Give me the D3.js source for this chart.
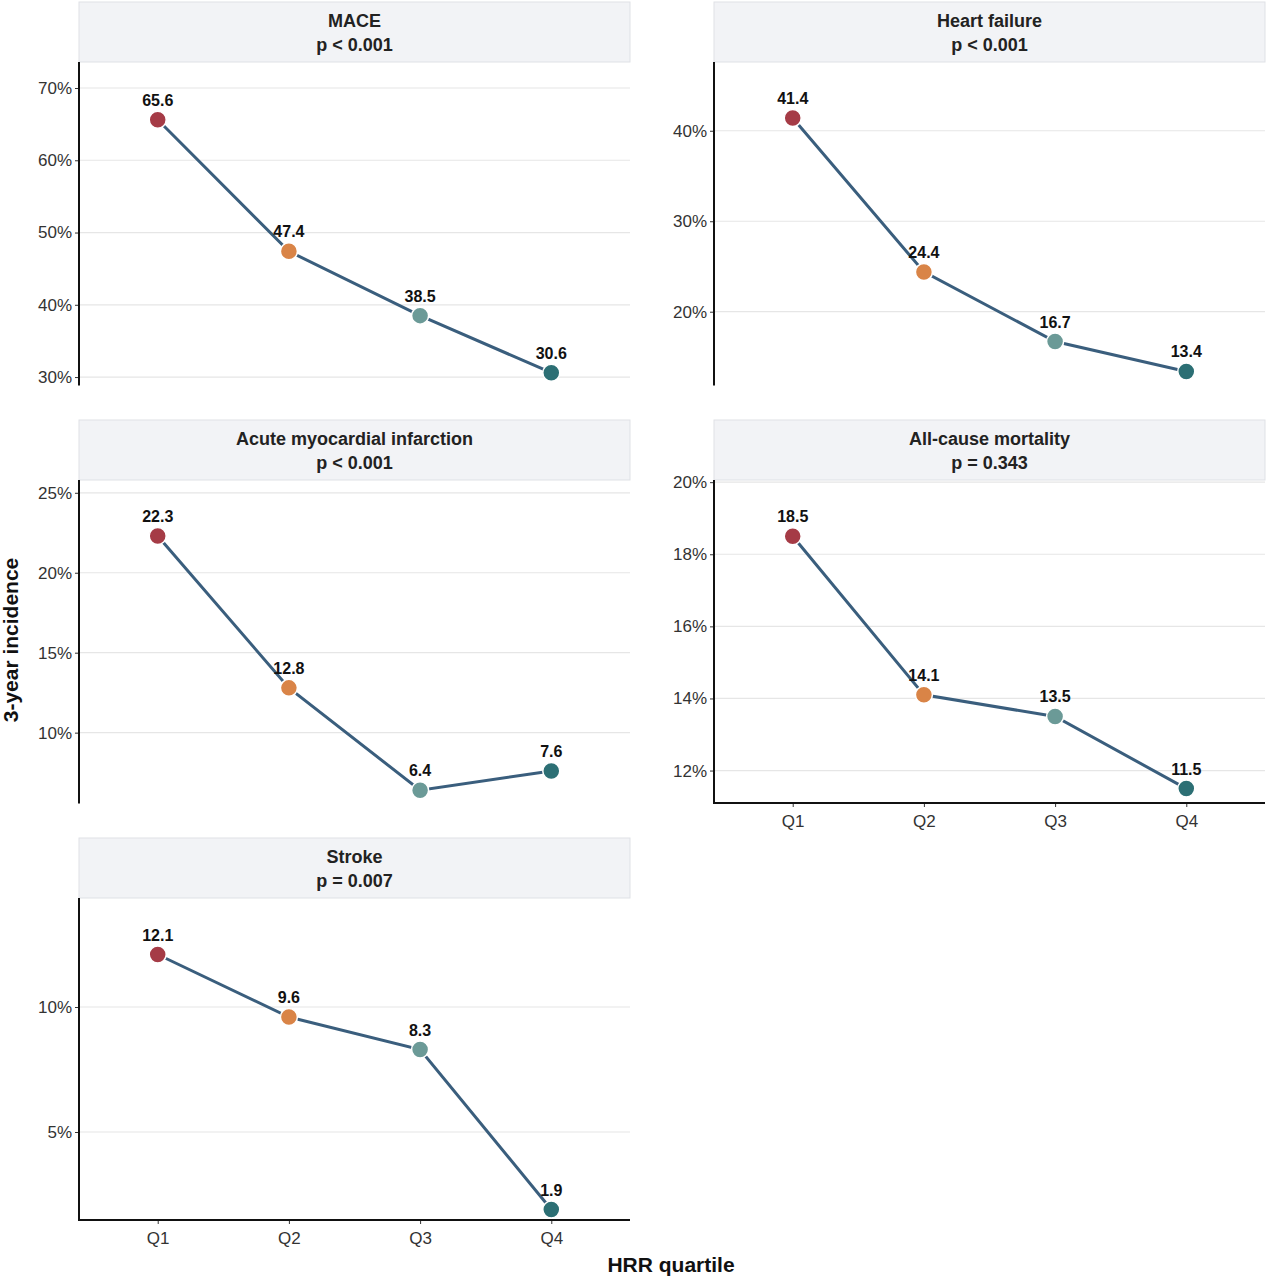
<!DOCTYPE html>
<html><head><meta charset="utf-8">
<script src="https://cdn.jsdelivr.net/npm/d3@7"></script>
<style>body{margin:0;background:#fff;font-family:"Liberation Sans",Arial,sans-serif}</style>
</head><body><svg id="c" width="1270" height="1280"></svg>
<script>
const quartiles = ["Q1", "Q2", "Q3", "Q4"];
const colors = ["#a53b46", "#d98447", "#6b9a97", "#2c6f74"];
const titles = ["MACE", "Heart failure", "Acute myocardial infarction", "All-cause mortality", "Stroke"];
const pvals = ["p < 0.001", "p < 0.001", "p < 0.001", "p = 0.343", "p = 0.007"];
const maceVals = [65.6, 47.4, 38.5, 30.6];
const hfVals = [41.4, 24.4, 16.7, 13.4];
const amiVals = [22.3, 12.8, 6.4, 7.6];
const mortVals = [18.5, 14.1, 13.5, 11.5];
const strokeVals = [12.1, 9.6, 8.3, 1.9];
const yDomains = [[28.9, 73.6], [11.9, 47.6], [5.6, 25.8], [11.1, 20.06], [1.48, 14.36]];
const yTicks = [[30, 40, 50, 60, 70], [20, 30, 40], [10, 15, 20, 25], [12, 14, 16, 18, 20], [5, 10]];

const series = [maceVals, hfVals, amiVals, mortVals, strokeVals];
const layout = [
  {x0: 79, x1: 630, top: 2, y0: 62, y1: 385, bottomAxis: false},
  {x0: 714, x1: 1265, top: 2, y0: 62, y1: 385, bottomAxis: false},
  {x0: 79, x1: 630, top: 420, y0: 480, y1: 803, bottomAxis: false},
  {x0: 714, x1: 1265, top: 420, y0: 480, y1: 803, bottomAxis: true},
  {x0: 79, x1: 630, top: 838, y0: 898, y1: 1220, bottomAxis: true}
];

const svg = d3.select("#c");
const font = '"Liberation Sans",Arial,sans-serif';

series.forEach((vals, i) => {
  const L = layout[i];
  const x = d3.scalePoint().domain(quartiles).range([L.x0, L.x1]).padding(0.6);
  const y = d3.scaleLinear().domain(yDomains[i]).range([L.y1, L.y0]);
  const g = svg.append("g");

  // strip
  g.append("rect").attr("x", L.x0).attr("y", L.top).attr("width", L.x1 - L.x0).attr("height", L.y0 - L.top)
    .attr("fill", "#f2f3f6").attr("stroke", "#dfe1e6");
  g.append("text").attr("x", (L.x0 + L.x1) / 2).attr("y", L.top + 25).attr("text-anchor", "middle")
    .attr("font-size", 18).attr("font-weight", "bold").attr("fill", "#222").text(titles[i]);
  g.append("text").attr("x", (L.x0 + L.x1) / 2).attr("y", L.top + 49).attr("text-anchor", "middle")
    .attr("font-size", 18).attr("font-weight", "bold").attr("fill", "#222").text(pvals[i]);

  // grid
  g.selectAll(".grid").data(yTicks[i]).enter().append("line")
    .attr("x1", L.x0).attr("x2", L.x1).attr("y1", d => y(d)).attr("y2", d => y(d))
    .attr("stroke", "#e6e6e6").attr("stroke-width", 1.2);

  const ya = g.append("g").attr("transform", `translate(${L.x0},0)`)
    .call(d3.axisLeft(y).tickValues(yTicks[i]).tickSize(4).tickFormat(d => d + "%"));
  ya.select(".domain").remove();
  ya.selectAll("text").attr("font-size", 17).attr("fill", "#333").attr("font-family", font);
  ya.selectAll("line").attr("stroke", "#333");
  g.append("line").attr("x1", L.x0).attr("x2", L.x0).attr("y1", L.y0).attr("y2", L.y1 + 0.5)
    .attr("stroke", "#111").attr("stroke-width", 2);

  if (L.bottomAxis) {
    const xa = g.append("g").attr("transform", `translate(0,${L.y1})`)
      .call(d3.axisBottom(x).tickSize(4));
    xa.select(".domain").remove();
    xa.selectAll("text").attr("font-size", 17).attr("fill", "#333").attr("dy", "1em").attr("font-family", font);
    xa.selectAll("line").attr("stroke", "#333");
    g.append("line").attr("x1", L.x0 - 1).attr("x2", L.x1).attr("y1", L.y1).attr("y2", L.y1)
      .attr("stroke", "#111").attr("stroke-width", 2);
  }

  const line = d3.line().x((d, j) => x(quartiles[j])).y(d => y(d));
  g.append("path").datum(vals).attr("d", line).attr("fill", "none")
    .attr("stroke", "#3a5e7d").attr("stroke-width", 3);
  g.selectAll(".pt").data(vals).enter().append("circle")
    .attr("cx", (d, j) => x(quartiles[j])).attr("cy", d => y(d)).attr("r", 8.5)
    .attr("fill", (d, j) => colors[j]).attr("stroke", "#fff").attr("stroke-width", 1.5);
  g.selectAll(".lab").data(vals).enter().append("text")
    .attr("x", (d, j) => x(quartiles[j])).attr("y", d => y(d) - 14).attr("text-anchor", "middle")
    .attr("font-size", 16).attr("font-weight", "bold").attr("fill", "#111").text(d => d.toFixed(1));
});

svg.append("text").attr("transform", "translate(18,640) rotate(-90)").attr("text-anchor", "middle")
  .attr("font-size", 21).attr("font-weight", "bold").attr("fill", "#111").text("3-year incidence");
svg.append("text").attr("x", 671).attr("y", 1272).attr("text-anchor", "middle")
  .attr("font-size", 21).attr("font-weight", "bold").attr("fill", "#111").text("HRR quartile");
</script></body></html>
